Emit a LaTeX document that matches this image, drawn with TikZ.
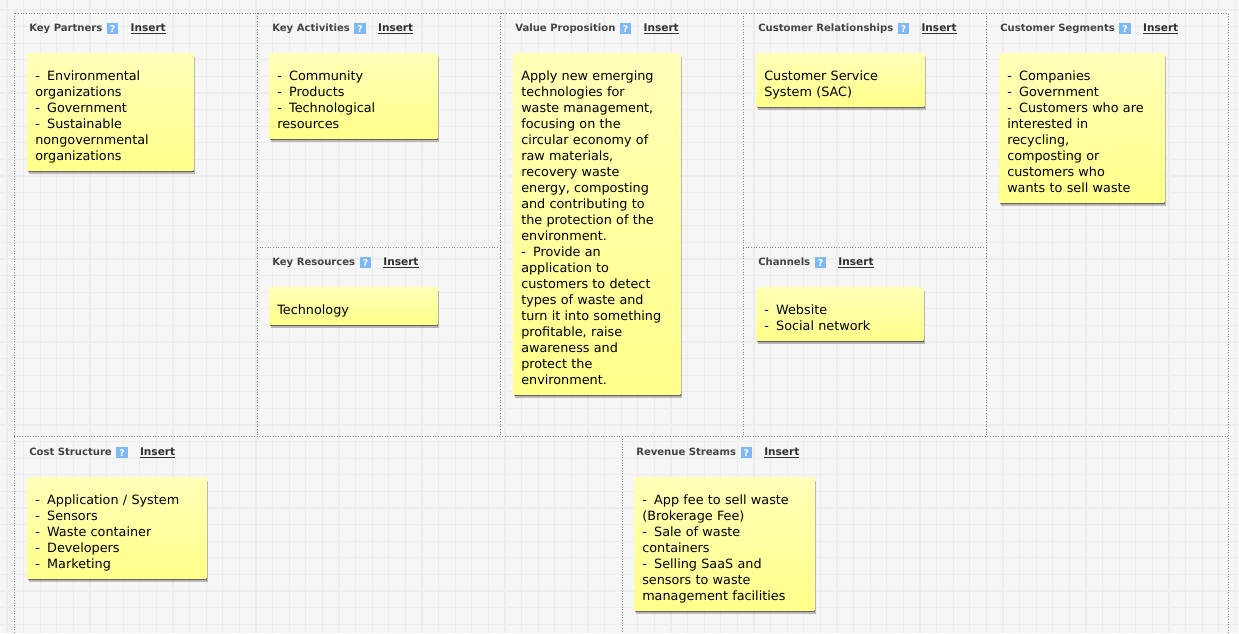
\documentclass[tikz,border=0pt]{standalone}
\usepackage{fontspec}
\setmainfont{DejaVu Sans}
\usepackage{xcolor}
\usetikzlibrary{positioning,shadows}
\definecolor{paper}{HTML}{F6F6F6}
\definecolor{gridline}{HTML}{EDEDED}
\definecolor{helpblue}{HTML}{7DB9F7}
\definecolor{headtext}{HTML}{444444}
\definecolor{notetop}{HTML}{FFFFB8}
\definecolor{notebottom}{HTML}{FFFF8A}
\newcommand{\dashitem}{-\hspace{2.25pt} }

\begin{document}
\begin{tikzpicture}[
  x=0.75pt, y=-0.75pt,
  node distance=3pt and 3pt,
  note/.style={shade, top color=notetop, bottom color=notebottom,
    drop shadow={shadow xshift=1pt, shadow yshift=-2.6pt, fill=black, opacity=0.25},
    drop shadow={shadow xshift=0.5pt, shadow yshift=-1.5pt, fill=black, opacity=0.45},
    anchor=north west, xshift=-0.75pt, yshift=0.75pt, inner xsep=6pt, inner ysep=3.25pt,
    text width=#1*0.75pt-12pt, align=left, text=black,
    font=\fontsize{9.6pt}{12pt}\selectfont,
    execute at begin node={\vskip 5.5pt\leavevmode\strut},
    execute at end node={\strut}},
  head/.style={anchor=west, inner sep=0pt, yshift=-0.5pt, text=headtext, text height=6pt, text depth=1.6pt,
    font=\fontsize{7.55pt}{9pt}\selectfont\bfseries},
  help/.style={right=3pt of #1, fill=helpblue, text=white, inner sep=0pt,
    minimum width=8.6pt, minimum height=8.6pt, font=\fontsize{7pt}{8pt}\selectfont\bfseries},
  insert/.style={right=8.8pt of #1, inner sep=0pt, text=headtext!70!black, text height=6pt, text depth=1.6pt,
    font=\fontsize{7.9pt}{9pt}\selectfont\bfseries},
  divider/.style={dash pattern=on 0.8pt off 1.2pt, draw=black!45, line width=0.6pt},
  gridrule/.style={draw=gridline, line width=1pt}
]

\useasboundingbox (0,0) rectangle (1239,633);
\fill[paper] (0,0) rectangle (1239,633);
\foreach \gx in {0,...,75} \draw[gridrule] (7+16.6*\gx,0) -- (7+16.6*\gx,633);
\foreach \gy in {0,...,38} \draw[gridrule] (0,10+16.6*\gy) -- (1239,10+16.6*\gy);

\draw[divider] (14,633) -- (14,13) -- (1228,13) -- (1228,633);
\draw[divider] (14,436) -- (1228,436);
\draw[divider] (257,13) -- (257,436);
\draw[divider] (500,13) -- (500,436);
\draw[divider] (743,13) -- (743,436);
\draw[divider] (986,13) -- (986,436);
\draw[divider] (622,436) -- (622,633);
\draw[divider] (257,247) -- (500,247);
\draw[divider] (743,247) -- (986,247);

\node[head] (partners) at (29,28) {Key Partners};
\node[help=partners] (partnersq) {?};
\node[insert=partnersq] (partnersi) {\underline{Insert}};
\node[head] (activities) at (272,28) {Key Activities};
\node[help=activities] (activitiesq) {?};
\node[insert=activitiesq] (activitiesi) {\underline{Insert}};
\node[head] (value) at (515,28) {Value Proposition};
\node[help=value] (valueq) {?};
\node[insert=valueq] (valuei) {\underline{Insert}};
\node[head] (relations) at (758,28) {Customer Relationships};
\node[help=relations] (relationsq) {?};
\node[insert=relationsq] (relationsi) {\underline{Insert}};
\node[head] (segments) at (1000,28) {Customer Segments};
\node[help=segments] (segmentsq) {?};
\node[insert=segmentsq] (segmentsi) {\underline{Insert}};
\node[head] (resources) at (272,262) {Key Resources};
\node[help=resources] (resourcesq) {?};
\node[insert=resourcesq] (resourcesi) {\underline{Insert}};
\node[head] (channels) at (758,262) {Channels};
\node[help=channels] (channelsq) {?};
\node[insert=channelsq] (channelsi) {\underline{Insert}};
\node[head] (cost) at (29,452) {Cost Structure};
\node[help=cost] (costq) {?};
\node[insert=costq] (costi) {\underline{Insert}};
\node[head] (revenue) at (636,452) {Revenue Streams};
\node[help=revenue] (revenueq) {?};
\node[insert=revenueq] (revenuei) {\underline{Insert}};

\node[note=166] (partnersn) at (28,54)
  {\dashitem Environmental\\organizations\\\dashitem Government\\\dashitem Sustainable\\nongovernmental\\organizations};
\node[note=168] (activitiesn) at (270,54)
  {\dashitem Community\\\dashitem Products\\\dashitem Technological\\resources};
\node[note=167] (valuen) at (514,54)
  {Apply new emerging\\technologies for\\waste management,\\focusing on the\\circular economy of\\raw materials,\\recovery waste\\energy, composting\\and contributing to\\the protection of the\\environment.\\\dashitem Provide an\\application to\\customers to detect\\types of waste and\\turn it into something\\profitable, raise\\awareness and\\protect the\\environment.};
\node[note=168] (relationsn) at (757,54)
  {Customer Service\\System (SAC)};
\node[note=165] (segmentsn) at (1000,54)
  {\dashitem Companies\\\dashitem Government\\\dashitem Customers who are\\interested in\\recycling,\\composting or\\customers who\\wants to sell waste};
\node[note=168] (resourcesn) at (270,288)
  {Technology};
\node[note=167] (channelsn) at (757,288)
  {\dashitem Website\\\dashitem Social network};
\node[note=179] (costn) at (28,478)
  {\dashitem Application / System\\\dashitem Sensors\\\dashitem Waste container\\\dashitem Developers\\\dashitem Marketing};
\node[note=180] (revenuen) at (635,478)
  {\dashitem App fee to sell waste\\(Brokerage Fee)\\\dashitem Sale of waste\\containers\\\dashitem Selling SaaS and\\sensors to waste\\management facilities};

\end{tikzpicture}
\end{document}
